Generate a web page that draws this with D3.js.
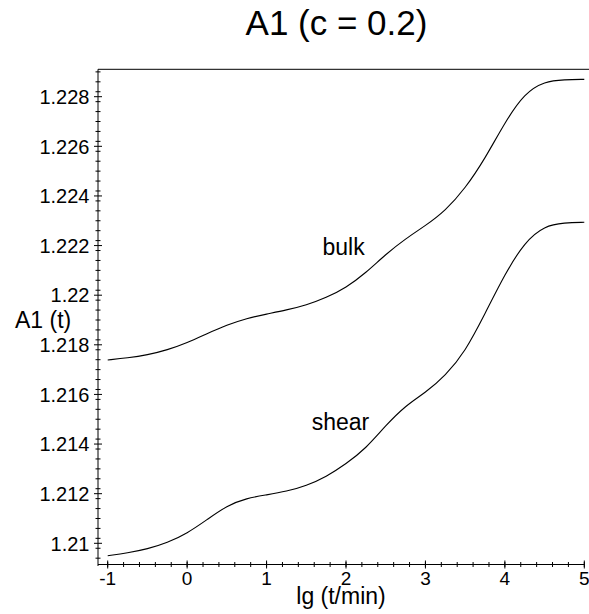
<!DOCTYPE html>
<html>
<head>
<meta charset="utf-8">
<script src="https://cdn.jsdelivr.net/npm/d3@7"></script>
<style>
  html, body { margin: 0; padding: 0; background: #fff; }
  svg { display: block; font-family: "Liberation Sans", Arial, sans-serif; }
</style>
</head>
<body>
<svg id="chart" width="589" height="614"></svg>
<script>
// ---- data ----
const lgT = [-1, -0.75, -0.5, -0.25, 0, 0.25, 0.5, 0.75, 1.0, 1.25, 1.5, 1.75, 2.0,
             2.25, 2.5, 2.75, 3.0, 3.25, 3.5, 3.75, 4.0, 4.25, 4.5, 4.75, 5.0];
const bulk = [1.21739, 1.21747, 1.21759, 1.21779, 1.21808, 1.21845, 1.21880, 1.21907,
              1.21924, 1.21940, 1.21960, 1.21990, 1.22030, 1.22090, 1.22165, 1.22228,
              1.22280, 1.22340, 1.22430, 1.22550, 1.22697, 1.22815, 1.22862, 1.22869, 1.22870];
const shear = [1.20950, 1.20961, 1.20977, 1.21002, 1.21040, 1.21095, 1.21152, 1.21182,
               1.21195, 1.21209, 1.21232, 1.21268, 1.21320, 1.21382, 1.21475, 1.21555,
               1.21607, 1.21675, 1.21772, 1.21925, 1.22085, 1.22215, 1.22280, 1.22292, 1.22294];
const xTickValues = [-1, 0, 1, 2, 3, 4, 5];
const yTickValues = [1.21, 1.212, 1.214, 1.216, 1.218, 1.22, 1.222, 1.224, 1.226, 1.228];
const yTickLabels = ["1.21", "1.212", "1.214", "1.216", "1.218", "1.22", "1.222", "1.224", "1.226", "1.228"];
const titleText = "A1 (c = 0.2)";
const xLabelText = "lg (t/min)";
const yLabelText = "A1 (t)";
const curveLabels = [{name: "bulk", x: 1.97, y: 1.22162}, {name: "shear", x: 1.93, y: 1.21457}];

// ---- layout ----
const svg = d3.select("#chart");
const x = d3.scaleLinear().domain([-1, 5]).range([107.7, 584.3]);
const y = d3.scaleLinear().domain([1.21, 1.228]).range([543.3, 96.7]);
const axisX0 = 98, axisYpos = 564.5, topY = 69.3;

// top frame line
svg.append("line").attr("x1", axisX0).attr("x2", 589).attr("y1", topY).attr("y2", topY)
  .attr("stroke", "#000").attr("stroke-width", 1);

// y axis
const yMinor = d3.range(0, 50).map(i => 1.2094 + i * 0.0004).filter(v => v <= 1.2291 && v >= 1.2092);
const gy = svg.append("g");
gy.append("line").attr("x1", axisX0).attr("x2", axisX0).attr("y1", topY).attr("y2", axisYpos + 1.5)
  .attr("stroke", "#000").attr("stroke-width", 1);
gy.selectAll("line.minor").data(yMinor).join("line").attr("class", "minor")
  .attr("x1", axisX0 - 2.5).attr("x2", axisX0 + 2.5)
  .attr("y1", d => y(d)).attr("y2", d => y(d)).attr("stroke", "#000").attr("stroke-width", 1);
gy.selectAll("line.major").data(yTickValues).join("line").attr("class", "major")
  .attr("x1", axisX0 - 4).attr("x2", axisX0 + 4)
  .attr("y1", d => y(d)).attr("y2", d => y(d)).attr("stroke", "#000").attr("stroke-width", 1);
gy.selectAll("text").data(yTickValues).join("text")
  .attr("x", 89.5).attr("y", d => y(d)).attr("dy", "0.36em")
  .attr("text-anchor", "end").attr("font-size", 20)
  .text((d, i) => yTickLabels[i]);

// x axis
const xMinor = d3.range(0, 31).map(i => -1 + i * 0.2);
const gx = svg.append("g");
gx.append("line").attr("x1", axisX0).attr("x2", 585).attr("y1", axisYpos).attr("y2", axisYpos)
  .attr("stroke", "#000").attr("stroke-width", 1);
gx.selectAll("line.minor").data(xMinor).join("line").attr("class", "minor")
  .attr("x1", d => x(d)).attr("x2", d => x(d))
  .attr("y1", axisYpos - 2.5).attr("y2", axisYpos + 2.5).attr("stroke", "#000").attr("stroke-width", 1);
gx.selectAll("line.major").data(xTickValues).join("line").attr("class", "major")
  .attr("x1", d => x(d)).attr("x2", d => x(d))
  .attr("y1", axisYpos - 4).attr("y2", axisYpos + 4).attr("stroke", "#000").attr("stroke-width", 1);
gx.selectAll("text").data(xTickValues).join("text")
  .attr("x", d => x(d)).attr("y", 584.5)
  .attr("text-anchor", "middle").attr("font-size", 19)
  .text(d => d);

// curves
const line = d3.line().x((d, i) => x(lgT[i])).y(d => y(d)).curve(d3.curveBasis);
[bulk, shear].forEach(s => {
  svg.append("path").datum(s).attr("d", line).attr("fill", "none")
    .attr("stroke", "#000").attr("stroke-width", 1.1);
});

// curve labels
svg.selectAll("text.clabel").data(curveLabels).join("text").attr("class", "clabel")
  .attr("x", d => x(d.x)).attr("y", d => y(d.y)).attr("text-anchor", "middle")
  .attr("font-size", 23).text(d => d.name);

// title & axis labels
svg.append("text").attr("x", 336.5).attr("y", 35).attr("text-anchor", "middle")
  .attr("font-size", 35).text(titleText);
svg.append("text").attr("x", 341).attr("y", 603.5).attr("text-anchor", "middle")
  .attr("font-size", 23).text(xLabelText);
svg.append("text").attr("x", 15).attr("y", 327.5).attr("text-anchor", "start")
  .attr("font-size", 23).text(yLabelText);
</script>
</body>
</html>
